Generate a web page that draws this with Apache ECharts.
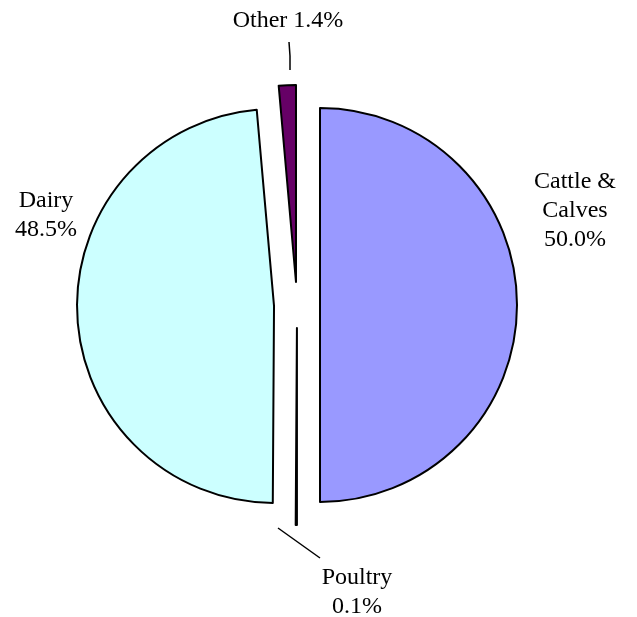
<!DOCTYPE html>
<html><head><meta charset="utf-8">
<script src="https://cdn.jsdelivr.net/npm/echarts@6/dist/echarts.min.js"></script>
<style>html,body{margin:0;padding:0;background:#fff}#c{width:637px;height:617px}</style>
</head><body><div id="c"></div>
<script>
const categories = ['Cattle &\nCalves', 'Poultry', 'Dairy', 'Other'];
const values = [50.0, 0.1, 48.5, 1.4];
const colors = ['#9999FF', '#FFFFCC', '#CCFFFF', '#660066'];
const labelSep = ['\n', '\n', '\n', ' '];

const cx = 297, cy = 305, R = 197;
// label anchor positions (center of text block) and leader lines
const labelPos = [
  {x: 575, y: 211},
  {x: 357, y: 592, line: [[278, 528], [299, 543], [320, 558]]},
  {x: 46, y: 215},
  {x: 288, y: 21, line: [[290, 70], [290, 56], [289, 42]]}
];

const chart = echarts.init(document.getElementById('c'), null, {renderer: 'canvas'});
chart.setOption({
  animation: false,
  backgroundColor: '#fff',
  series: [{
    // exploded slices
    type: 'pie',
    center: [cx, cy],
    radius: [0, R],
    startAngle: 90,
    clockwise: true,
    selectedMode: 'multiple',
    selectedOffset: 23,
    avoidLabelOverlap: false,
    silent: true,
    emphasis: {disabled: true},
    itemStyle: {borderColor: '#000', borderWidth: 2},
    label: {show: false},
    labelLine: {show: false},
    data: categories.map(function (n, i) {
      return {name: n, value: values[i], selected: true, itemStyle: {color: colors[i]}};
    })
  }, {
    // label carrier (transparent slices)
    type: 'pie',
    center: [cx, cy],
    radius: [0, R],
    startAngle: 90,
    clockwise: true,
    avoidLabelOverlap: false,
    silent: true,
    z: 1,
    emphasis: {disabled: true},
    itemStyle: {color: 'rgba(0,0,0,0)', borderWidth: 0},
    label: {
      show: true,
      position: 'outside',
      fontFamily: 'Liberation Serif',
      fontSize: 24,
      lineHeight: 29,
      color: '#000',
      align: 'center',
      formatter: function (p) {
        return p.name + labelSep[p.dataIndex] + p.value.toFixed(1) + '%';
      }
    },
    labelLine: {show: true, lineStyle: {color: '#000', width: 1.5}, length: 10, length2: 10},
    labelLayout: function (params) {
      const lp = labelPos[params.dataIndex];
      const out = {x: lp.x, y: lp.y, align: 'center', verticalAlign: 'middle', hideOverlap: false};
      if (lp.line) out.labelLinePoints = lp.line;
      return out;
    },
    data: categories.map(function (n, i) {
      return {name: n, value: values[i], labelLine: {show: !!labelPos[i].line}};
    })
  }]
});
</script></body></html>
